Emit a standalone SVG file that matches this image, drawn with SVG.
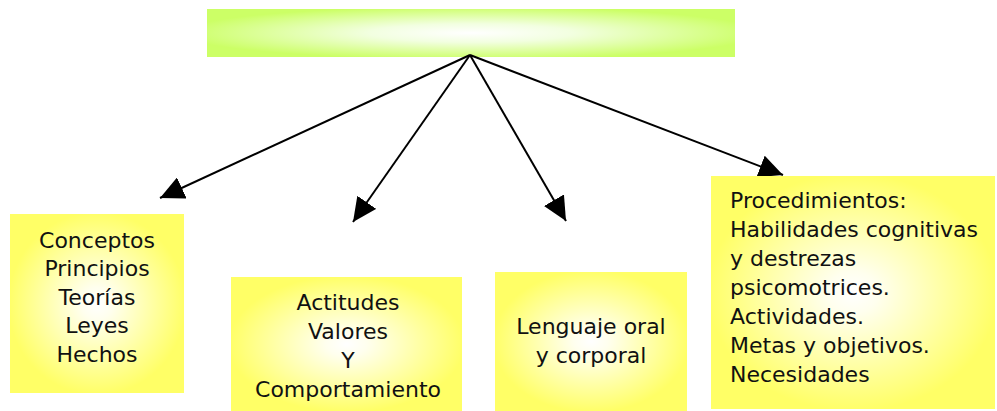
<svg xmlns="http://www.w3.org/2000/svg" width="997" height="411" viewBox="0 0 997 411">
  <defs>
    <radialGradient id="gy" cx="0.5" cy="0.5" r="0.6">
      <stop offset="0" stop-color="#ffffff"/>
      <stop offset="0.15" stop-color="#ffffee"/>
      <stop offset="0.85" stop-color="#ffff66"/>
    </radialGradient>
    <radialGradient id="gg" cx="0.5" cy="0.5" r="0.55">
      <stop offset="0" stop-color="#ffffff"/>
      <stop offset="0.35" stop-color="#f2ffe0"/>
      <stop offset="1" stop-color="#ccff66"/>
    </radialGradient>
    <marker id="ah" markerUnits="userSpaceOnUse" markerWidth="25" markerHeight="23" refX="24" refY="11.5" orient="auto">
      <path d="M0,0 L24,11.5 L0,23 z" fill="#000"/>
    </marker>
  </defs>
  <style>
    .box { fill: url(#gy); }
    .t { font-family: "DejaVu Sans", "Liberation Sans", sans-serif; font-size: 22px; fill: #111; }
    .c { text-anchor: middle; }
    .edge { stroke: #000; stroke-width: 2; fill: none; marker-end: url(#ah); }
  </style>
  <rect width="997" height="411" fill="#fff"/>
  <g id="top">
    <rect x="207" y="9" width="528" height="48" fill="url(#gg)"/>
  </g>
  <g id="connectors">
    <line class="edge" x1="470" y1="55" x2="160" y2="198"/>
    <line class="edge" x1="470" y1="55" x2="353" y2="222"/>
    <line class="edge" x1="470" y1="55" x2="566" y2="221"/>
    <line class="edge" x1="470" y1="55" x2="783" y2="175"/>
  </g>
  <g id="n1">
    <rect class="box" x="10" y="214" width="174" height="179"/>
    <text class="t c" x="97" y="248">Conceptos</text>
    <text class="t c" x="97" y="276">Principios</text>
    <text class="t c" x="97" y="305">Teorías</text>
    <text class="t c" x="97" y="333">Leyes</text>
    <text class="t c" x="97" y="362">Hechos</text>
  </g>
  <g id="n2">
    <rect class="box" x="231" y="277" width="231" height="134"/>
    <text class="t c" x="348" y="310">Actitudes</text>
    <text class="t c" x="348" y="339">Valores</text>
    <text class="t c" x="348" y="368">Y</text>
    <text class="t c" x="348" y="397">Comportamiento</text>
  </g>
  <g id="n3">
    <rect class="box" x="495" y="272" width="192" height="139"/>
    <text class="t c" x="591" y="334">Lenguaje oral</text>
    <text class="t c" x="591" y="363">y corporal</text>
  </g>
  <g id="n4">
    <rect class="box" x="711" y="176" width="284" height="233"/>
    <text class="t" x="730" y="208">Procedimientos:</text>
    <text class="t" x="730" y="237">Habilidades cognitivas</text>
    <text class="t" x="730" y="266">y destrezas</text>
    <text class="t" x="730" y="295">psicomotrices.</text>
    <text class="t" x="730" y="324">Actividades.</text>
    <text class="t" x="730" y="353">Metas y objetivos.</text>
    <text class="t" x="730" y="382">Necesidades</text>
  </g>
</svg>
